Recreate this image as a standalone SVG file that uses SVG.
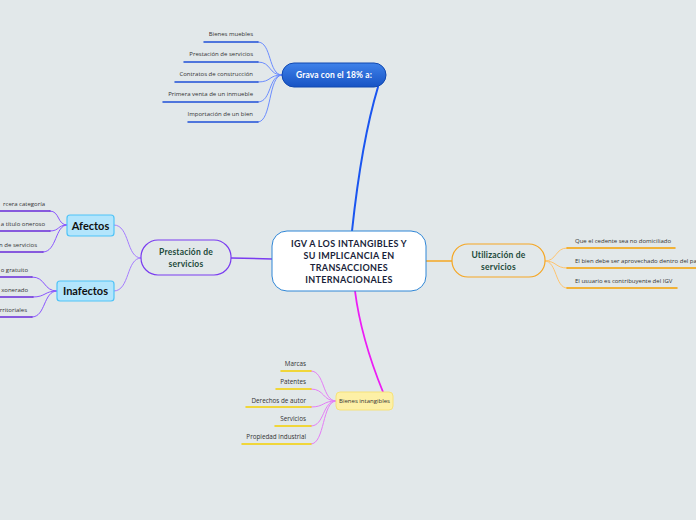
<svg xmlns="http://www.w3.org/2000/svg" width="696" height="520" viewBox="0 0 696 520">
<defs>
<linearGradient id="gblue" x1="0" y1="0" x2="0" y2="1">
<stop offset="0" stop-color="#3f82ea"/>
<stop offset="1" stop-color="#1753c4"/>
</linearGradient>
<style>
.leaf{font-family:"Open Sans","Liberation Sans",sans-serif;font-size:6px;fill:#333}
.big{font-size:6.3px}
.lab{font-family:"Lato","Open Sans",sans-serif;font-weight:bold}
.c{fill:none;stroke-linecap:round}
</style>
</defs>
<rect width="696" height="520" fill="#e2e8ea"/>

<g id="connectors">
<path class="c" d="M352,231 C358,175 368,120 378,87" stroke="#1a55f0" stroke-width="2"/>
<path class="c" d="M231,258 L272,259" stroke="#7a3cf0" stroke-width="1.5"/>
<path class="c" d="M426,261 L452,261" stroke="#f5a623" stroke-width="1.5"/>
<path class="c" d="M355,291 C360,330 372,365 383,392" stroke="#ec1cf5" stroke-width="1.8"/>
<g stroke="#6b8cff" stroke-width="1">
<path class="c" d="M258,42 C272,42 268,75 282,75"/>
<path class="c" d="M258,62 C272,62 268,75 282,75"/>
<path class="c" d="M258,82 C272,82 268,75 282,75"/>
<path class="c" d="M258,102 C272,102 268,75 282,75"/>
<path class="c" d="M258,122 C272,122 268,75 282,75"/>
</g>
<g stroke="#1f4fd8" stroke-width="1.5">
<path class="c" d="M204,42 L258,42"/>
<path class="c" d="M184,62 L258,62"/>
<path class="c" d="M175,82 L258,82"/>
<path class="c" d="M163,102 L258,102"/>
<path class="c" d="M188,122 L258,122"/>
</g>
<g stroke="#a57cff" stroke-width="1">
<path class="c" d="M141,258 C126,258 130,225 114,225"/>
<path class="c" d="M141,258 C126,258 130,291 114,291"/>
</g>
<g stroke="#8a55ff" stroke-width="1">
<path class="c" d="M50,211 C60,211 57,225 67,225"/>
<path class="c" d="M50,231 C60,231 57,225 67,225"/>
<path class="c" d="M43,252 C57,252 55,225 67,225"/>
<path class="c" d="M32,277 C46,277 43,291 57,291"/>
<path class="c" d="M33,297 C46,297 44,291 57,291"/>
<path class="c" d="M32,317 C46,317 43,291 57,291"/>
</g>
<g stroke="#6a2bd9" stroke-width="1.5">
<path class="c" d="M0,211 L50,211"/>
<path class="c" d="M0,231 L50,231"/>
<path class="c" d="M0,252 L43,252"/>
<path class="c" d="M0,277 L32,277"/>
<path class="c" d="M0,297 L33,297"/>
<path class="c" d="M0,317 L32,317"/>
</g>
<g stroke="#ffc46e" stroke-width="1">
<path class="c" d="M545,261 C557,261 555,248 567,248"/>
<path class="c" d="M545,261 C557,261 555,268 567,268"/>
<path class="c" d="M545,261 C557,261 555,288 567,288"/>
</g>
<g stroke="#f5a000" stroke-width="1.5">
<path class="c" d="M567,248 L675,248"/>
<path class="c" d="M567,268 L696,268"/>
<path class="c" d="M567,288 L677,288"/>
</g>
<g stroke="#e57df7" stroke-width="1">
<path class="c" d="M311,371 C325,371 322,401 336,401"/>
<path class="c" d="M311,389 C325,389 322,401 336,401"/>
<path class="c" d="M311,407 C325,407 322,401 336,401"/>
<path class="c" d="M311,426 C325,426 322,401 336,401"/>
<path class="c" d="M311,444 C325,444 322,401 336,401"/>
</g>
<g stroke="#f5cf00" stroke-width="1.5">
<path class="c" d="M281,371 L311,371"/>
<path class="c" d="M276,389 L311,389"/>
<path class="c" d="M246,407 L311,407"/>
<path class="c" d="M275,426 L311,426"/>
<path class="c" d="M242,444 L311,444"/>
</g>
</g>

<g id="center">
<rect x="272" y="231" width="154" height="60" rx="15" fill="#ffffff" stroke="#2f86d6" stroke-width="1"/>
<g class="lab" font-size="9" fill="#1a1f3a" text-anchor="middle" letter-spacing="0.3">
<text x="349" y="246.5">IGV A LOS INTANGIBLES Y</text>
<text x="349" y="258.5">SU IMPLICANCIA EN</text>
<text x="349" y="270.5">TRANSACCIONES</text>
<text x="349" y="282.5">INTERNACIONALES</text>
</g>
</g>

<g id="grava">
<rect x="282" y="63" width="104" height="24" rx="12" fill="url(#gblue)" stroke="#1048b0" stroke-width="1"/>
<text class="lab" x="334" y="78.2" font-size="8.5" fill="#ffffff" text-anchor="middle" letter-spacing="0.1">Grava con el 18% a:</text>
</g>

<g id="grava-leaves" class="leaf" text-anchor="end">
<text x="253" y="36">Bienes muebles</text>
<text x="253" y="56">Prestación de servicios</text>
<text x="253" y="76">Contratos de construcción</text>
<text x="253" y="96">Primera venta de un inmueble</text>
<text x="253" y="116">Importación de un bien</text>
</g>

<g id="prestacion">
<rect x="141" y="240" width="90" height="35" rx="17" fill="#e2e8ea" stroke="#7a3cf0" stroke-width="1.2"/>
<g class="lab" font-size="8.5" fill="#1d4a3a" text-anchor="middle" letter-spacing="0.2">
<text x="186" y="255">Prestación de</text>
<text x="186" y="267">servicios</text>
</g>
</g>

<g id="afectos">
<rect x="67" y="215" width="47" height="21" rx="3" fill="#b3e5fc" stroke="#4fc3f7" stroke-width="1.2"/>
<text class="lab" x="90.5" y="229.5" font-size="11" fill="#111" text-anchor="middle">Afectos</text>
</g>

<g id="inafectos">
<rect x="57" y="281" width="57" height="20" rx="3" fill="#b3e5fc" stroke="#4fc3f7" stroke-width="1.2"/>
<text class="lab" x="85.5" y="295" font-size="11" fill="#111" text-anchor="middle">Inafectos</text>
</g>

<g id="afectos-leaves" class="leaf" text-anchor="end">
<text x="45" y="206">rcera categoría</text>
<text x="45" y="226">a título oneroso</text>
<text x="37" y="247">n de servicios</text>
<text x="28" y="272">o gratuito</text>
<text x="28" y="292">xonerado</text>
<text x="27" y="312">rritoriales</text>
</g>

<g id="utilizacion">
<rect x="452" y="244" width="93" height="33" rx="16" fill="#e2e8ea" stroke="#f5a623" stroke-width="1.2"/>
<g class="lab" font-size="8.5" fill="#1d4a3a" text-anchor="middle" letter-spacing="0.2">
<text x="498.5" y="258">Utilización de</text>
<text x="498.5" y="270">servicios</text>
</g>
</g>

<g id="utilizacion-leaves" class="leaf">
<text x="575" y="243">Que el cedente sea no domiciliado</text>
<text x="575" y="263">El bien debe ser aprovechado dentro del pa</text>
<text x="575" y="283">El usuario es contribuyente del IGV</text>
</g>

<g id="bienes">
<rect x="336" y="392" width="57" height="18" rx="4" fill="#fdf0a6" stroke="#f6e27a" stroke-width="1"/>
<text class="leaf" x="364.5" y="403" text-anchor="middle">Bienes intangibles</text>
</g>

<g id="bienes-leaves" class="leaf big" text-anchor="end">
<text x="306" y="366">Marcas</text>
<text x="306" y="384">Patentes</text>
<text x="306" y="402.5">Derechos de autor</text>
<text x="306" y="421">Servicios</text>
<text x="306" y="439">Propiedad industrial</text>
</g>
</svg>
